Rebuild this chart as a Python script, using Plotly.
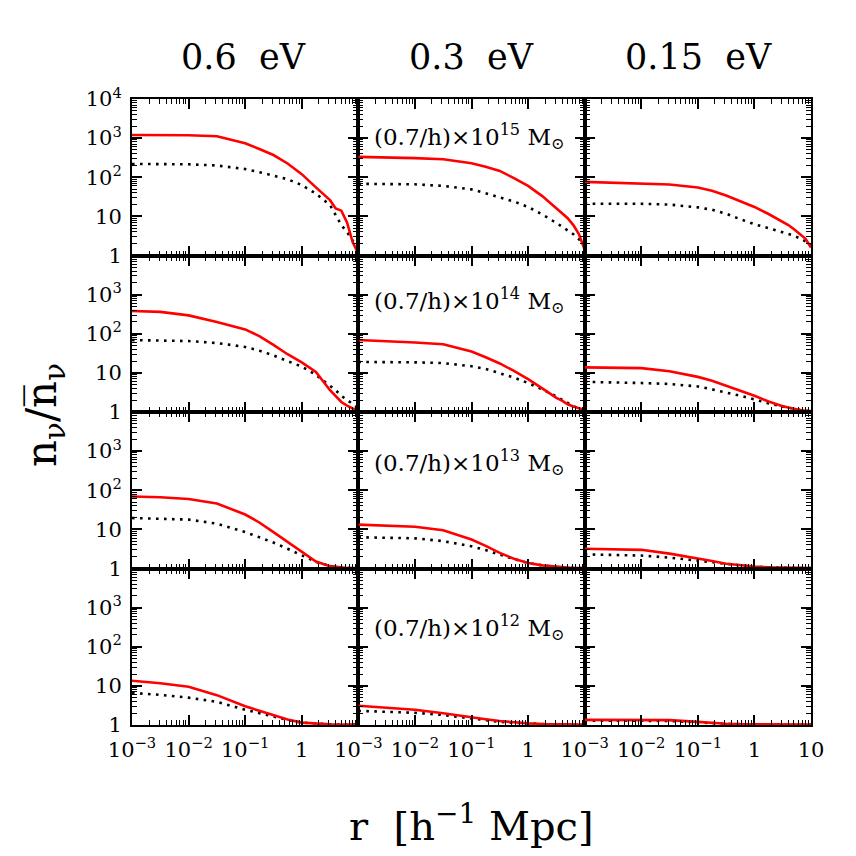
import plotly.graph_objects as go
from plotly.subplots import make_subplots

# ---------------- data ----------------
r = [0.001, 0.00316, 0.01, 0.0316, 0.1, 0.178, 0.316, 0.562, 1.0, 1.78, 3.16, 3.98, 5.01, 6.31, 7.94, 10.0]

col_titles = ["0.6\u00a0\u00a0eV", "0.3\u00a0\u00a0eV", "0.15\u00a0\u00a0eV"]
mass_labels = ["10<sup>15</sup>", "10<sup>14</sup>", "10<sup>13</sup>", "10<sup>12</sup>"]

# row 1 : 1e15 Msun
red_r1c1 = [1200, 1200, 1180, 1120, 740, 525, 370, 225, 120, 55, 26, 16, 14, 7, 2.2, 1.1]
blk_r1c1 = [219, 219, 214, 200, 162, 135, 110, 89, 63, 38, 19.5, 11, 6, 4, 2.4, 1.6]
red_r1c2 = [331, 324, 309, 288, 229, 186, 145, 95, 60, 33, 16.6, 12, 9, 6, 3.5, 1.4]
blk_r1c2 = [68, 68, 66, 60, 49, 39, 31, 24, 17.4, 11.2, 6.8, 5.5, 4.4, 3.5, 2.6, 1.9]
red_r1c3 = [76, 72, 69, 65, 55, 45, 34, 24, 17.4, 11.5, 7.4, 6.0, 4.7, 3.5, 2.7, 1.6]
blk_r1c3 = [21, 21, 21, 20, 17, 14.8, 11.7, 8.5, 6.3, 5.0, 4.0, 3.6, 3.2, 2.75, 2.3, 1.8]
# row 2 : 1e14 Msun
red_r2c1 = [380, 363, 295, 200, 129, 87, 52, 30, 18.6, 10.5, 3.6, 2.5, 1.8, 1.45, 1.23, 1.12]
blk_r2c1 = [69, 68, 65, 58, 46, 37, 28, 20, 14.5, 8.9, 4.8, 3.6, 2.6, 2.0, 1.6, 1.26]
red_r2c2 = [69, 65, 60, 54, 35, 25, 17.4, 11.2, 6.9, 4.0, 2.3, 1.95, 1.58, 1.38, 1.23, 1.12]
blk_r2c2 = [19, 19, 18.6, 17.8, 14.8, 12.6, 10, 7.6, 5.5, 3.8, 2.5, 2.04, 1.66, 1.41, 1.23, 1.12]
red_r2c3 = [13.8, 13.5, 13.2, 11, 7.9, 6.3, 4.8, 3.5, 2.6, 1.86, 1.41, 1.29, 1.2, 1.12, 1.07, 1.05]
blk_r2c3 = [5.9, 5.8, 5.5, 5.2, 4.5, 3.8, 3.2, 2.6, 2.1, 1.66, 1.38, 1.29, 1.2, 1.12, 1.07, 1.05]
# row 3 : 1e13 Msun
red_r3c1 = [69, 66, 60, 46, 24, 15, 8.5, 4.8, 2.75, 1.5, 1.15, 1.1, 1.05, 1.02, 1.02, 1.02]
blk_r3c1 = [19.5, 19, 17.8, 14, 8.5, 6.3, 4.6, 3.2, 2.2, 1.48, 1.15, 1.1, 1.05, 1.02, 1.02, 1.02]
red_r3c2 = [13.2, 12.6, 11.7, 9.5, 5.5, 3.8, 2.5, 1.78, 1.38, 1.2, 1.1, 1.07, 1.05, 1.02, 1.02, 1.02]
blk_r3c2 = [6.3, 6.2, 5.9, 5.0, 3.7, 2.95, 2.24, 1.74, 1.38, 1.2, 1.1, 1.07, 1.05, 1.02, 1.02, 1.02]
red_r3c3 = [3.2, 3.16, 3.0, 2.4, 1.82, 1.55, 1.32, 1.2, 1.12, 1.07, 1.05, 1.04, 1.03, 1.02, 1.02, 1.02]
blk_r3c3 = [2.3, 2.2, 2.14, 1.9, 1.58, 1.45, 1.3, 1.18, 1.1, 1.07, 1.05, 1.04, 1.03, 1.02, 1.02, 1.02]
# row 4 : 1e12 Msun
red_r4c1 = [13.5, 11.7, 9.5, 5.8, 3.0, 2.3, 1.78, 1.38, 1.15, 1.07, 1.04, 1.03, 1.03, 1.03, 1.03, 1.03]
blk_r4c1 = [6.6, 5.9, 5.0, 3.9, 2.45, 2.0, 1.7, 1.35, 1.15, 1.07, 1.04, 1.03, 1.03, 1.03, 1.03, 1.03]
red_r4c2 = [3.1, 2.8, 2.45, 2.0, 1.55, 1.4, 1.26, 1.17, 1.1, 1.06, 1.04, 1.03, 1.03, 1.03, 1.03, 1.03]
blk_r4c2 = [2.3, 2.2, 2.05, 1.8, 1.45, 1.32, 1.2, 1.13, 1.08, 1.05, 1.03, 1.03, 1.03, 1.03, 1.03, 1.03]
red_r4c3 = [1.35, 1.35, 1.34, 1.33, 1.2, 1.13, 1.08, 1.05, 1.04, 1.03, 1.02, 1.02, 1.02, 1.02, 1.02, 1.02]
blk_r4c3 = [1.3, 1.3, 1.28, 1.27, 1.17, 1.11, 1.07, 1.05, 1.04, 1.03, 1.02, 1.02, 1.02, 1.02, 1.02, 1.02]

red = [[red_r1c1, red_r1c2, red_r1c3],
       [red_r2c1, red_r2c2, red_r2c3],
       [red_r3c1, red_r3c2, red_r3c3],
       [red_r4c1, red_r4c2, red_r4c3]]
blk = [[blk_r1c1, blk_r1c2, blk_r1c3],
       [blk_r2c1, blk_r2c2, blk_r2c3],
       [blk_r3c1, blk_r3c2, blk_r3c3],
       [blk_r4c1, blk_r4c2, blk_r4c3]]

x_tickvals = [0.001, 0.01, 0.1, 1, 10]
x_ticktext = ["10<sup>\u22123</sup>", "10<sup>\u22122</sup>", "10<sup>\u22121</sup>", "1", "10"]
y_tickvals = [1, 10, 100, 1000, 10000]
y_ticktext = ["1", "10", "10<sup>2</sup>", "10<sup>3</sup>", "10<sup>4</sup>"]

# ---------------- figure ----------------
W = H = 856
OFF = 8  # page body margin shifts the figure by this much
# plot area in reference pixels: x 132..811, y 99..725
PL, PR, PT, PB = 132, 811, 99, 725
L = PL - OFF
T = PT - OFF
R = W - (PR - OFF)
B = H - (PB - OFF)
FONT = "DejaVu Serif"

fig = make_subplots(rows=4, cols=3, horizontal_spacing=0, vertical_spacing=0)

for i in range(4):
    for j in range(3):
        fig.add_trace(go.Scatter(x=r, y=blk[i][j], mode="lines",
                                 line=dict(color="black", width=2.6, dash="2.6px,5.4px"),
                                 showlegend=False, hoverinfo="skip"), row=i + 1, col=j + 1)
        fig.add_trace(go.Scatter(x=r, y=red[i][j], mode="lines",
                                 line=dict(color="#ff0000", width=2.6),
                                 showlegend=False, hoverinfo="skip"), row=i + 1, col=j + 1)

minor_x = [m * 10 ** e for e in range(-3, 1) for m in range(2, 10)]
minor_y = [m * 10 ** e for e in range(0, 4) for m in range(2, 10)]

for i in range(4):
    for j in range(3):
        xt = list(x_ticktext)
        if j < 2:
            xt[-1] = ""
        yt = list(y_ticktext)
        if i > 0:
            yt[-1] = ""
        fig.update_xaxes(type="log", range=[-3, 1], showline=True, linewidth=2, linecolor="black",
                         mirror="allticks", ticks="inside", ticklen=10, tickwidth=1.6, tickcolor="black",
                         tickmode="array", tickvals=x_tickvals, ticktext=xt,
                         showticklabels=(i == 3), showgrid=False, zeroline=False,
                         ticklabelstandoff=5, automargin=False,
                         tickfont=dict(family=FONT, size=21, color="black"),
                         minor=dict(ticks="inside", ticklen=5, tickwidth=1.2, tickcolor="black",
                                    tickmode="array", tickvals=minor_x, showgrid=False),
                         row=i + 1, col=j + 1)
        fig.update_yaxes(type="log", range=[0, 4], showline=True, linewidth=2, linecolor="black",
                         mirror="allticks", ticks="inside", ticklen=10, tickwidth=1.6, tickcolor="black",
                         tickmode="array", tickvals=y_tickvals, ticktext=yt,
                         showticklabels=(j == 0), showgrid=False, zeroline=False,
                         ticklabelstandoff=4, automargin=False,
                         tickfont=dict(family=FONT, size=21, color="black"),
                         minor=dict(ticks="inside", ticklen=5, tickwidth=1.2, tickcolor="black",
                                    tickmode="array", tickvals=minor_y, showgrid=False),
                         row=i + 1, col=j + 1)

def py2paper(py):
    return (PB - py) / (PB - PT)

def px2paper(px):
    return (px - PL) / (PR - PL)

annotations = []
col_centers = [243, 471, 698]
for j, t in enumerate(col_titles):
    annotations.append(dict(text=t, x=px2paper(col_centers[j]), y=py2paper(57), xref="paper", yref="paper",
                            showarrow=False, xanchor="center", yanchor="middle",
                            font=dict(family=FONT, size=35, color="black")))

mass_y = [3.03, 2.84, 2.71, 2.5]
for i, ml in enumerate(mass_labels):
    idx = i * 3 + 2
    annotations.append(dict(text="(0.7/h)\u00d7" + ml + " M<sub>\u2299</sub>", x=-2.76, y=mass_y[i],
                            xref=f"x{idx}", yref=f"y{idx}", showarrow=False,
                            xanchor="left", yanchor="middle",
                            font=dict(family=FONT, size=23, color="black")))

annotations.append(dict(text="r\u00a0\u00a0[h<sup>\u22121</sup>\u00a0Mpc]", x=px2paper(471), y=py2paper(823),
                        xref="paper", yref="paper", showarrow=False, xanchor="center", yanchor="middle",
                        font=dict(family=FONT, size=40, color="black")))
annotations.append(dict(text="n<sub>\u03bd</sub>/n\u0305<sub>\u03bd</sub>", x=px2paper(44), y=py2paper(415),
                        xref="paper", yref="paper", showarrow=False, xanchor="center", yanchor="middle",
                        textangle=-90, font=dict(family=FONT, size=42, color="black")))

fig.update_layout(width=W, height=H, margin=dict(l=L, r=R, t=T, b=B, autoexpand=False),
                  paper_bgcolor="white", plot_bgcolor="white",
                  annotations=annotations, showlegend=False)

fig.write_html("out.html")
